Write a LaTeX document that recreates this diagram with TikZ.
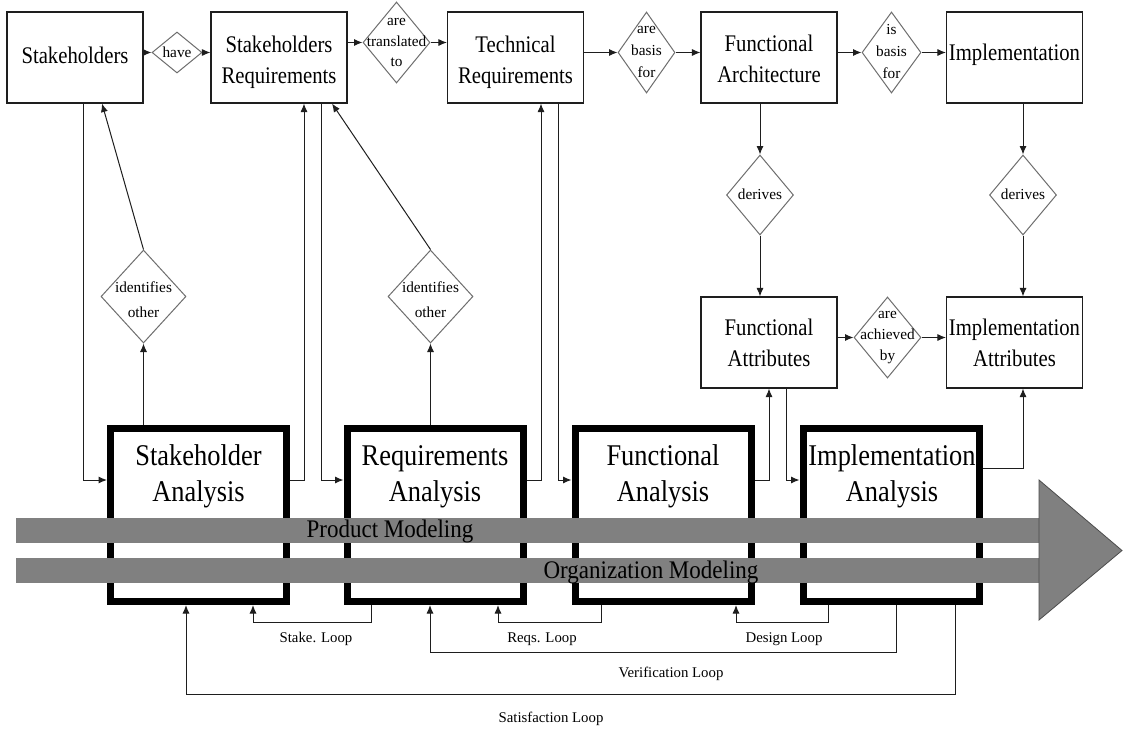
\documentclass[tikz,border=0pt]{standalone}
\usepackage{fontspec}
\setmainfont{Liberation Serif}
\usepackage{graphicx}
\usetikzlibrary{shapes.geometric,arrows.meta,calc}
\newcommand\tallx[2]{\scalebox{1}[#1]{\begin{tabular}{@{}c@{}}#2\end{tabular}}}
\definecolor{bandgray}{RGB}{128,128,128}
\definecolor{linegray}{RGB}{30,30,30}
\definecolor{diagray}{RGB}{110,110,110}
\begin{document}
\begin{tikzpicture}[x=1pt,y=-1pt,
  topbox/.style={draw=linegray, line width=1.1pt, minimum width=136pt, minimum height=91pt, inner sep=0pt},
  anbox/.style={draw=black, line width=7pt, minimum width=176pt, minimum height=173pt, inner sep=0pt},
  dia/.style={diamond, draw=diagray, line width=1pt, inner sep=0pt},
  toptxt/.style={font=\fontsize{20.7}{27}\selectfont, inner sep=0pt},
  antxt/.style={font=\fontsize{26.4}{32}\selectfont, inner sep=0pt},
  dtxt/.style={font=\fontsize{15.3}{#1}\selectfont, inner sep=0pt},
  dtxt/.default=21,
  bandtxt/.style={font=\fontsize{23}{27}\selectfont, inner sep=0pt, anchor=base},
  looptxt/.style={font=\fontsize{14.8}{17}\selectfont, inner sep=0pt, anchor=base},
  arr/.style={draw=linegray, line width=1pt, -{Latex[length=8.5pt,width=7pt]}}
]
\fill[white] (0,0) rectangle (1124,728);
\useasboundingbox (0,0) rectangle (1124,728);

% column and level coordinates
\coordinate (c83) at (83,0);
\coordinate (c102) at (102,0);
\coordinate (c143) at (143,0);
\coordinate (c186) at (186,0);
\coordinate (c253) at (253,0);
\coordinate (c304) at (304,0);
\coordinate (c321) at (321,0);
\coordinate (c332) at (332,0);
\coordinate (c371) at (371,0);
\coordinate (c430) at (430,0);
\coordinate (c498) at (498,0);
\coordinate (c541) at (541,0);
\coordinate (c558) at (558,0);
\coordinate (c601) at (601,0);
\coordinate (c736) at (736,0);
\coordinate (c786) at (786,0);
\coordinate (c828) at (828,0);
\coordinate (c896) at (896,0);
\coordinate (c955) at (955,0);
\coordinate (lvA) at (0,480);
\coordinate (lvB) at (0,468);
\coordinate (lv1) at (0,622);
\coordinate (lv2) at (0,652);
\coordinate (lv3) at (0,694);

% top boxes
\node[topbox] (stake) at (75,57.5) {};
\node[toptxt] (stake-t) at (75,57) {\tallx{1.15}{Stakeholders}};
\node[topbox] (sreq) at (279,57.5) {};
\node[toptxt] (sreq-t) at (279,62) {\tallx{1.15}{Stakeholders\\Requirements}};
\node[topbox] (tech) at (515.5,57.5) {};
\node[toptxt] (tech-t) at (515.5,62) {\tallx{1.15}{Technical\\Requirements}};
\node[topbox] (farch) at (769,57.5) {};
\node[toptxt] (farch-t) at (769,60.5) {\tallx{1.15}{Functional\\Architecture}};
\node[topbox] (impl) at (1014.5,57.5) {};
\node[toptxt] (impl-t) at (1014.5,54) {\tallx{1.15}{Implementation}};

% attribute boxes
\node[topbox] (fattr) at (769,342.5) {};
\node[toptxt] (fattr-t) at (769,345) {\tallx{1.15}{Functional\\Attributes}};
\node[topbox] (iattr) at (1014.5,342.5) {};
\node[toptxt] (iattr-t) at (1014.5,345) {\tallx{1.15}{Implementation\\Attributes}};

% diamonds
\node[dia, minimum width=50pt, minimum height=41pt] (have) at (177,52.5) {};
\node[dtxt] (have-t) at (177,52) {have};
\node[dia, minimum width=67pt, minimum height=81pt] (transl) at (396.5,42.5) {};
\node[dtxt=20.5, align=center] (transl-t) at (396.5,42.5) {are\\translated\\to};
\node[dia, minimum width=57pt, minimum height=81pt] (abasis) at (646.5,52.5) {};
\node[dtxt=22, align=center] (abasis-t) at (646.5,52) {are\\basis\\for};
\node[dia, minimum width=59pt, minimum height=81pt] (ibasis) at (891.5,52.5) {};
\node[dtxt=22, align=center] (ibasis-t) at (891.5,52) {is\\basis\\for};
\node[dia, minimum width=67pt, minimum height=80pt] (der1) at (760,195) {};
\node[dtxt] (der1-t) at (760,194) {derives};
\node[dia, minimum width=67pt, minimum height=80pt] (der2) at (1023,195) {};
\node[dtxt] (der2-t) at (1023,194) {derives};
\node[dia, minimum width=67pt, minimum height=81pt] (achv) at (887.5,337.5) {};
\node[dtxt=21, align=center] (achv-t) at (887.5,337.5) {are\\achieved\\by};
\node[dia, minimum width=85pt, minimum height=93pt] (ident1) at (143.5,296.5) {};
\node[dtxt=25, align=center] (ident1-t) at (143.5,300) {identifies\\other};
\node[dia, minimum width=85pt, minimum height=93pt] (ident2) at (430.5,296.5) {};
\node[dtxt=25, align=center] (ident2-t) at (430.5,300) {identifies\\other};

% analysis boxes
\node[anbox] (sa) at (198.5,515) {};
\node[antxt] (sa-t) at (198.5,476) {\tallx{1.14}{Stakeholder\\Analysis}};
\node[anbox] (ra) at (435,515) {};
\node[antxt] (ra-t) at (435,476) {\tallx{1.14}{Requirements\\Analysis}};
\node[anbox] (fua) at (663,515) {};
\node[antxt] (fua-t) at (663,476) {\tallx{1.14}{Functional\\Analysis}};
\node[anbox] (ia) at (891,515) {};
\node[antxt] (ia-t) at (892,476) {\tallx{1.14}{Implementation\\Analysis}};

% modeling bands
\fill[bandgray] (16,518) rectangle (1039,543);
\fill[bandgray] (16,558) rectangle (1039,583);
\filldraw[fill=bandgray, draw=black!70, line width=0.8pt] (1039,480) -- (1122,550.5) -- (1039,620) -- cycle;
\node[bandtxt] (prod) at (390,537) {\scalebox{1}[1.1]{Product Modeling}};
\node[bandtxt] (org) at (651,578) {\scalebox{1}[1.1]{Organization Modeling}};

% top row connectors
\draw[arr] (stake.east |- have) -- (have);
\draw[arr] (have) -- (sreq.west |- have);
\draw[arr] (sreq.east |- transl) -- (transl);
\draw[arr] (transl) -- (tech.west |- transl);
\draw[arr] (tech.east |- abasis) -- (abasis);
\draw[arr] (abasis) -- (farch.west |- abasis);
\draw[arr] (farch.east |- ibasis) -- (ibasis);
\draw[arr] (ibasis) -- (impl.west |- ibasis);

% derives / attributes
\draw[arr] (farch.south -| der1) -- (der1);
\draw[arr] (der1) -- (fattr.north -| der1);
\draw[arr] (impl.south -| der2) -- (der2);
\draw[arr] (der2) -- (iattr.north -| der2);
\draw[arr] (fattr.east |- achv) -- (achv);
\draw[arr] (achv) -- (iattr.west |- achv);

% identifies other
\draw[arr] (sa.north -| ident1) -- (ident1.south);
\draw[arr] (ident1.north) -- (stake.south -| c102);
\draw[arr] (ra.north -| ident2) -- (ident2.south);
\draw[arr] (ident2.north) -- (sreq.south -| c332);

% flow between boxes and analyses
\draw[arr] (stake.south -| c83) |- (sa.west |- lvA);
\draw[arr] (sa.east |- lvA) -| (sreq.south -| c304);
\draw[arr] (sreq.south -| c321) |- (ra.west |- lvA);
\draw[arr] (ra.east |- lvA) -| (tech.south -| c541);
\draw[arr] (tech.south -| c558) |- (fua.west |- lvA);
\draw[arr] (fua.east |- lvA) -| (fattr.south);
\draw[arr] (fattr.south -| c786) |- (ia.west |- lvA);
\draw[arr] (ia.east |- lvB) -| (iattr.south -| der2);

% loops
\draw[arr] (ra.south -| c371) -- (c371 |- lv1) -| (sa.south -| c253);
\draw[arr] (fua.south -| c601) -- (c601 |- lv1) -| (ra.south -| c498);
\draw[arr] (ia.south -| c828) -- (c828 |- lv1) -| (fua.south -| c736);
\draw[arr] (ia.south -| c896) -- (c896 |- lv2) -| (ra.south -| c430);
\draw[arr] (ia.south -| c955) -- (c955 |- lv3) -| (sa.south -| c186);

\node[looptxt] (lstake) at (316,642) {Stake. Loop};
\node[looptxt] (lreqs) at (542,642) {Reqs. Loop};
\node[looptxt] (ldesign) at (784,642) {Design Loop};
\node[looptxt] (lverif) at (671,677) {Verification Loop};
\node[looptxt] (lsatis) at (551,722) {Satisfaction Loop};
\end{tikzpicture}
\end{document}
